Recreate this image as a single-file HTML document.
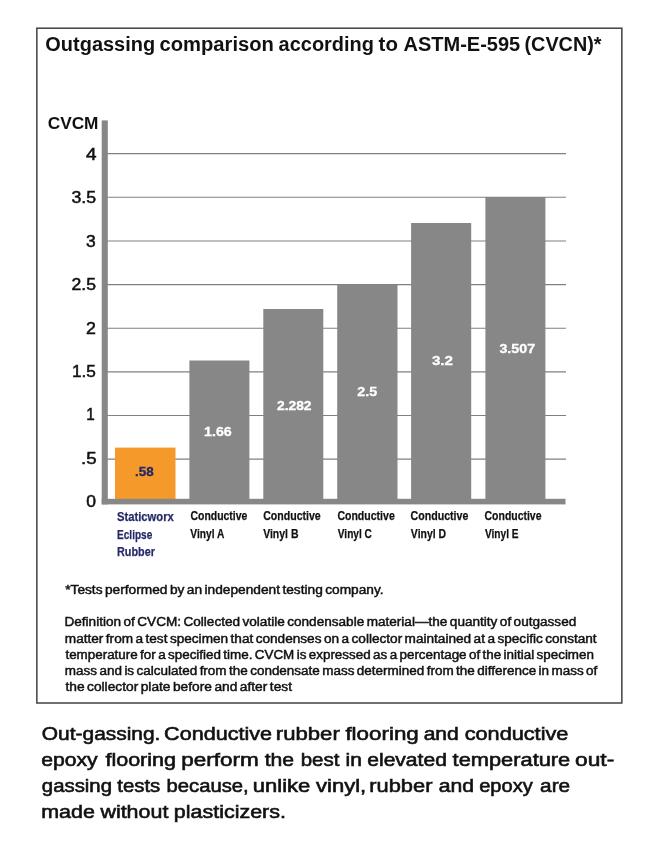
<!DOCTYPE html>
<html lang="en">
<head>
<meta charset="utf-8">
<title>Outgassing comparison according to ASTM-E-595</title>
<style>
html,body{margin:0;padding:0;background:#fff;}
body{width:650px;height:841px;overflow:hidden;font-family:"Liberation Sans",sans-serif;}
svg{display:block;}
text{font-family:"Liberation Sans",sans-serif;}
.title{font-size:20px;font-weight:bold;fill:#111;}
.axt{font-size:16.4px;font-weight:bold;fill:#111;}
.ylab{font-size:16.2px;fill:#111;stroke:#111;stroke-width:.5px;}
.val{font-size:12.5px;font-weight:bold;fill:#fff;stroke:#fff;stroke-width:.3px;}
.xlab{font-size:13.4px;font-weight:bold;fill:#111;stroke:#111;stroke-width:.25px;}
.navy{fill:#262968;stroke:#262968;}
.navyv{fill:#262968;stroke:#262968;}
.small{font-size:12.3px;fill:#111;stroke:#111;stroke-width:.45px;word-spacing:-1.2px;}
.cap{font-size:18.8px;fill:#111;stroke:#111;stroke-width:.6px;word-spacing:-.4px;}
</style>
</head>
<body>
<svg width="650" height="841" viewBox="0 0 650 841">
<rect x="0" y="0" width="650" height="841" fill="#fff"/>
<!-- frame -->
<rect x="36.85" y="28.2" width="585.0" height="674.8" fill="none" stroke="#424242" stroke-width="1.5"/>
<!-- gridlines -->
<g stroke="#808080" stroke-width="1.15">
<line x1="107" x2="566" y1="153.65" y2="153.65"/>
<line x1="107" x2="566" y1="197.25" y2="197.25"/>
<line x1="107" x2="566" y1="240.95" y2="240.95"/>
<line x1="107" x2="566" y1="284.55" y2="284.55"/>
<line x1="107" x2="566" y1="328.25" y2="328.25"/>
<line x1="107" x2="566" y1="371.85" y2="371.85"/>
<line x1="107" x2="566" y1="415.45" y2="415.45"/>
<line x1="107" x2="566" y1="459.15" y2="459.15"/>
</g>
<!-- bars -->
<rect x="115" y="447.6" width="60.5" height="51.4" fill="#f5992a"/>
<g fill="#878787">
<rect x="189.4" y="360.5" width="60" height="138.5"/>
<rect x="263.3" y="309" width="60" height="190"/>
<rect x="337.2" y="284.6" width="60.3" height="214.4"/>
<rect x="411.1" y="223" width="60.1" height="276"/>
<rect x="485.4" y="197" width="60" height="302"/>
<!-- axes -->
<rect x="101.7" y="120.4" width="6.1" height="384"/>
<rect x="101.7" y="498.8" width="463.8" height="5.6"/>
</g>
<!-- fitted text -->
<text id="t0" class="title" x="45.37" y="50.90" textLength="109.71" lengthAdjust="spacingAndGlyphs">Outgassing</text>
<text id="t1" class="title" x="159.53" y="50.90" textLength="114.35" lengthAdjust="spacingAndGlyphs">comparison</text>
<text id="t2" class="title" x="278.62" y="50.90" textLength="95.33" lengthAdjust="spacingAndGlyphs">according</text>
<text id="t3" class="title" x="378.59" y="50.90" textLength="19.31" lengthAdjust="spacingAndGlyphs">to</text>
<text id="t4" class="title" x="403.49" y="50.90" textLength="116.73" lengthAdjust="spacingAndGlyphs">ASTM-E-595</text>
<text id="t5" class="title" x="524.54" y="50.90" textLength="76.94" lengthAdjust="spacingAndGlyphs">(CVCN)*</text>
<text id="cvcm" class="axt" x="47.70" y="129.10" textLength="50.81" lengthAdjust="spacingAndGlyphs">CVCM</text>
<text id="y4" class="ylab" x="86.13" y="159.50" textLength="10.54" lengthAdjust="spacingAndGlyphs">4</text>
<text id="y3_5" class="ylab" x="71.47" y="203.00" textLength="24.65" lengthAdjust="spacingAndGlyphs">3.5</text>
<text id="y3" class="ylab" x="86.05" y="246.50" textLength="9.69" lengthAdjust="spacingAndGlyphs">3</text>
<text id="y2_5" class="ylab" x="71.49" y="290.00" textLength="24.45" lengthAdjust="spacingAndGlyphs">2.5</text>
<text id="y2" class="ylab" x="86.07" y="333.50" textLength="9.91" lengthAdjust="spacingAndGlyphs">2</text>
<text id="y1_5" class="ylab" x="71.98" y="376.80" textLength="23.89" lengthAdjust="spacingAndGlyphs">1.5</text>
<text id="y1" class="ylab" x="86.30" y="420.40" textLength="8.53" lengthAdjust="spacingAndGlyphs">1</text>
<text id="y_5" class="ylab" x="80.99" y="463.80" textLength="15.63" lengthAdjust="spacingAndGlyphs">.5</text>
<text id="y0" class="ylab" x="86.17" y="507.20" textLength="9.75" lengthAdjust="spacingAndGlyphs">0</text>
<text id="v1" class="val navyv" x="135.14" y="476.00" textLength="18.68" lengthAdjust="spacingAndGlyphs">.58</text>
<text id="v2" class="val" x="204.07" y="436.10" textLength="27.75" lengthAdjust="spacingAndGlyphs">1.66</text>
<text id="v3" class="val" x="276.94" y="409.50" textLength="34.61" lengthAdjust="spacingAndGlyphs">2.282</text>
<text id="v4" class="val" x="357.26" y="396.00" textLength="19.82" lengthAdjust="spacingAndGlyphs">2.5</text>
<text id="v5" class="val" x="431.90" y="365.10" textLength="21.13" lengthAdjust="spacingAndGlyphs">3.2</text>
<text id="v6" class="val" x="499.45" y="353.00" textLength="35.66" lengthAdjust="spacingAndGlyphs">3.507</text>
<text id="x1a" class="xlab navy" x="116.99" y="520.70" textLength="56.77" lengthAdjust="spacingAndGlyphs">Staticworx</text>
<text id="x1b" class="xlab navy" x="117.02" y="538.50" textLength="35.28" lengthAdjust="spacingAndGlyphs">Eclipse</text>
<text id="x1c" class="xlab navy" x="117.05" y="556.20" textLength="37.84" lengthAdjust="spacingAndGlyphs">Rubber</text>
<text id="x2a" class="xlab" x="190.44" y="520.30" textLength="56.96" lengthAdjust="spacingAndGlyphs">Conductive</text>
<text id="x2b" class="xlab" x="190.32" y="538.20" textLength="34.07" lengthAdjust="spacingAndGlyphs">Vinyl A</text>
<text id="x3a" class="xlab" x="263.16" y="520.30" textLength="57.60" lengthAdjust="spacingAndGlyphs">Conductive</text>
<text id="x3b" class="xlab" x="263.15" y="538.20" textLength="35.34" lengthAdjust="spacingAndGlyphs">Vinyl B</text>
<text id="x4a" class="xlab" x="337.39" y="520.30" textLength="57.38" lengthAdjust="spacingAndGlyphs">Conductive</text>
<text id="x4b" class="xlab" x="337.81" y="538.20" textLength="34.07" lengthAdjust="spacingAndGlyphs">Vinyl C</text>
<text id="x5a" class="xlab" x="410.57" y="520.30" textLength="57.80" lengthAdjust="spacingAndGlyphs">Conductive</text>
<text id="x5b" class="xlab" x="410.87" y="538.20" textLength="35.19" lengthAdjust="spacingAndGlyphs">Vinyl D</text>
<text id="x6a" class="xlab" x="484.59" y="520.30" textLength="56.87" lengthAdjust="spacingAndGlyphs">Conductive</text>
<text id="x6b" class="xlab" x="484.89" y="538.20" textLength="33.67" lengthAdjust="spacingAndGlyphs">Vinyl E</text>
<text id="s0" class="small" x="65.21" y="594.40" textLength="318.42" lengthAdjust="spacingAndGlyphs">*Tests performed by an independent testing company.</text>
<text id="s1" class="small" x="64.48" y="626.20" textLength="511.78" lengthAdjust="spacingAndGlyphs">Definition of CVCM: Collected volatile condensable material—the quantity of outgassed</text>
<text id="s2" class="small" x="64.85" y="642.50" textLength="531.80" lengthAdjust="spacingAndGlyphs">matter from a test specimen that condenses on a collector maintained at a specific constant</text>
<text id="s3" class="small" x="65.44" y="658.80" textLength="528.52" lengthAdjust="spacingAndGlyphs">temperature for a specified time. CVCM is expressed as a percentage of the initial specimen</text>
<text id="s4" class="small" x="64.86" y="675.00" textLength="532.48" lengthAdjust="spacingAndGlyphs">mass and is calculated from the condensate mass determined from the difference in mass of</text>
<text id="s5" class="small" x="65.44" y="691.30" textLength="226.56" lengthAdjust="spacingAndGlyphs">the collector plate before and after test</text>
<text id="c1_0" class="cap" x="41.86" y="739.70" textLength="118.54" lengthAdjust="spacingAndGlyphs">Out-gassing.</text>
<text id="c1_1" class="cap" x="164.06" y="739.70" textLength="107.96" lengthAdjust="spacingAndGlyphs">Conductive</text>
<text id="c1_2" class="cap" x="275.84" y="739.70" textLength="63.95" lengthAdjust="spacingAndGlyphs">rubber</text>
<text id="c1_3" class="cap" x="345.40" y="739.70" textLength="73.40" lengthAdjust="spacingAndGlyphs">flooring</text>
<text id="c1_4" class="cap" x="423.65" y="739.70" textLength="35.10" lengthAdjust="spacingAndGlyphs">and</text>
<text id="c1_5" class="cap" x="464.67" y="739.70" textLength="103.74" lengthAdjust="spacingAndGlyphs">conductive</text>
<text id="c2_0" class="cap" x="41.20" y="765.65" textLength="56.50" lengthAdjust="spacingAndGlyphs">epoxy</text>
<text id="c2_1" class="cap" x="105.41" y="765.65" textLength="70.63" lengthAdjust="spacingAndGlyphs">flooring</text>
<text id="c2_2" class="cap" x="181.25" y="765.65" textLength="77.55" lengthAdjust="spacingAndGlyphs">perform</text>
<text id="c2_3" class="cap" x="264.65" y="765.65" textLength="29.43" lengthAdjust="spacingAndGlyphs">the</text>
<text id="c2_4" class="cap" x="300.74" y="765.65" textLength="38.67" lengthAdjust="spacingAndGlyphs">best</text>
<text id="c2_5" class="cap" x="345.47" y="765.65" textLength="101.39" lengthAdjust="spacingAndGlyphs">in elevated</text>
<text id="c2_6" class="cap" x="452.62" y="765.65" textLength="117.62" lengthAdjust="spacingAndGlyphs">temperature</text>
<text id="c2_7" class="cap" x="575.00" y="765.65" textLength="39.24" lengthAdjust="spacingAndGlyphs">out-</text>
<text id="c3_0" class="cap" x="41.82" y="791.75" textLength="118.41" lengthAdjust="spacingAndGlyphs">gassing tests</text>
<text id="c3_1" class="cap" x="166.60" y="791.75" textLength="82.14" lengthAdjust="spacingAndGlyphs">because,</text>
<text id="c3_2" class="cap" x="252.78" y="791.75" textLength="113.41" lengthAdjust="spacingAndGlyphs">unlike vinyl,</text>
<text id="c3_3" class="cap" x="369.25" y="791.75" textLength="63.16" lengthAdjust="spacingAndGlyphs">rubber</text>
<text id="c3_4" class="cap" x="438.68" y="791.75" textLength="35.31" lengthAdjust="spacingAndGlyphs">and</text>
<text id="c3_5" class="cap" x="479.21" y="791.75" textLength="53.49" lengthAdjust="spacingAndGlyphs">epoxy</text>
<text id="c3_6" class="cap" x="540.13" y="791.75" textLength="30.03" lengthAdjust="spacingAndGlyphs">are</text>
<text id="c4" class="cap" x="41.26" y="817.50" textLength="244.67" lengthAdjust="spacingAndGlyphs">made without plasticizers.</text>
</svg>
</body>
</html>
